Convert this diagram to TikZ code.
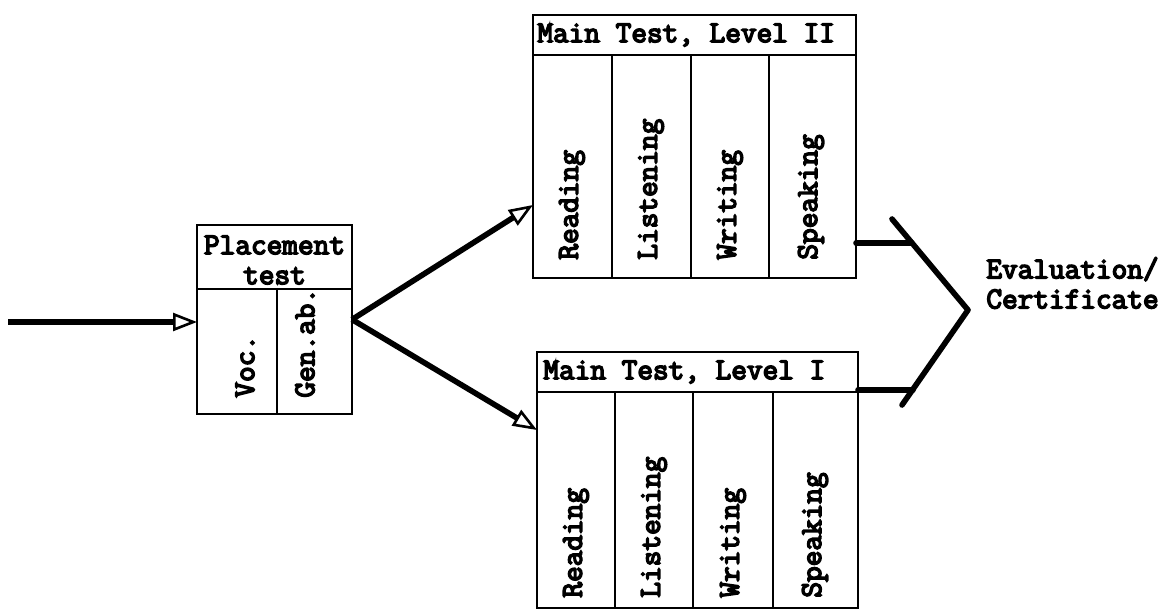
\documentclass[tikz,border=0pt]{standalone}
\usepackage{fontspec}
\newfontfamily\twfont[FakeBold=5]{Latin Modern Mono}
\usetikzlibrary{arrows.meta,calc}
\begin{document}
\begin{tikzpicture}[x=0.5pt,y=-0.5pt,
  box/.style={draw,line width=1.2pt,inner sep=0pt,outer sep=0pt,rectangle},
  divider/.style={line width=1.2pt},
  txt/.style={font=\twfont\fontsize{15.2}{15}\selectfont,inner sep=0pt},
  vlabel/.style={txt,rotate=90,anchor=west},
  flow/.style={line width=2.8pt,-{Triangle[open,length=12pt,width=9pt,line width=1.3pt]}},
  evline/.style={line width=2.8pt,line cap=round,line join=round}]
\useasboundingbox (0,0) rectangle (1169,612);

% Placement test box
\node[box,minimum width=77.5pt,minimum height=94.5pt] (pl) at (274.5,319.5) {};
\draw[divider] (197,289) -- (352,289);
\draw[divider] (277,289) -- (277,414);
\node[txt,align=center] (plh) at (274.5,260) {Placement\\test};
\node[vlabel] (voc) at (245,398) {Voc.};
\node[vlabel] (gen) at (305,398) {Gen.ab.};

% Main Test, Level II
\node[box,minimum width=161.5pt,minimum height=131.5pt] (m2) at (694.5,146.5) {};
\draw[divider] (533,55) -- (856,55);
\foreach \x in {612,691,769} \draw[divider] (\x,55) -- (\x,278);
\node[txt,anchor=west] (m2h) at (537,35) {Main Test, Level II};
\node[vlabel] (m2a) at (572,260) {Reading};
\node[vlabel] (m2b) at (651,260) {Listening};
\node[vlabel] (m2c) at (730,260) {Writing};
\node[vlabel] (m2d) at (811,260) {Speaking};

% Main Test, Level I
\node[box,minimum width=160.5pt,minimum height=128pt] (m1) at (697.5,480) {};
\draw[divider] (537,392) -- (858,392);
\foreach \x in {615,693,773} \draw[divider] (\x,392) -- (\x,608);
\node[txt,anchor=west] (m1h) at (543,372) {Main Test, Level I};
\node[vlabel] (m1a) at (576,598) {Reading};
\node[vlabel] (m1b) at (654,598) {Listening};
\node[vlabel] (m1c) at (733,598) {Writing};
\node[vlabel] (m1d) at (815,598) {Speaking};

% Evaluation
\node[txt,align=left,anchor=west] (ev) at (986,283) {Evaluation/\\Certificate};

% connectors
\coordinate (in) at (8,322);
\draw[flow] (in) -- (pl.west |- in);
\draw[flow] (pl.east) -- ($(m2.south west)+(0,-73)$);
\draw[flow] (pl.east) -- ($(m1.north west)+(0,78)$);

\coordinate (vx) at (968,310);
\coordinate (ut) at (892,219);
\coordinate (lt) at (902,405);
\draw[evline] (ut) -- (vx) -- (lt);
\draw[evline] ($(m2.south east)+(0,-35)$) -- (912,243);
\draw[evline] ($(m1.north east)+(0,38)$) -- (913,390);
\end{tikzpicture}
\end{document}
